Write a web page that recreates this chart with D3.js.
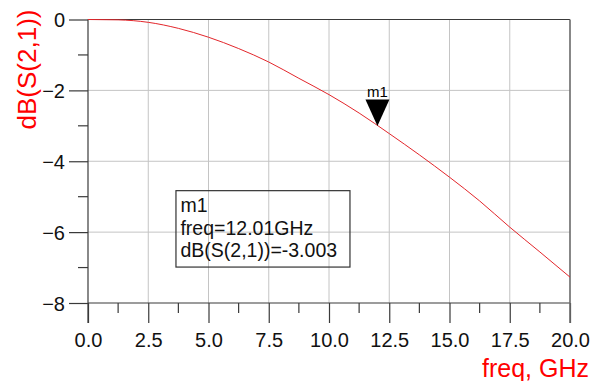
<!DOCTYPE html>
<html><head><meta charset="utf-8">
<script src="https://cdn.jsdelivr.net/npm/d3@7"></script>
<style>html,body{margin:0;padding:0;background:#fff;}svg{display:block;font-family:"Liberation Sans",Arial,sans-serif;}</style>
</head><body>
<svg id="c" width="592" height="381"></svg>
<script>
const freqGHz = [0, 1.25, 2.5, 3.75, 5, 6.25, 7.5, 8.75, 10, 11.25, 12.5, 13.75, 15, 16.25, 17.5, 18.75, 20];
const dbS21   = [0, -0.01, -0.08, -0.25, -0.50, -0.82, -1.20, -1.66, -2.12, -2.64, -3.22, -3.82, -4.45, -5.12, -5.86, -6.56, -7.27];
const xTicks = [0, 2.5, 5, 7.5, 10, 12.5, 15, 17.5, 20];
const xMinor = [1.25, 3.75, 6.25, 8.75, 11.25, 13.75, 16.25, 18.75];
const yTicks = [0, -2, -4, -6, -8];
const yMinor = [-1, -3, -5, -7];
const marker = {name: "m1", freq: 12.01, value: -3.003};
const boxLines = ["m1", "freq=12.01GHz", "dB(S(2,1))=-3.003"];

const svg = d3.select("#c");
const x = d3.scaleLinear().domain([0, 20]).range([88, 570]);
const y = d3.scaleLinear().domain([0, -8]).range([19.5, 303]);
const axisCol = "#3a3a3a";

// grid
const g = svg.append("g");
g.selectAll(".vg").data(xTicks.filter(d => d > 0 && d < 20)).join("line")
  .attr("x1", d => x(d)).attr("x2", d => x(d)).attr("y1", y(0)).attr("y2", y(-8))
  .attr("stroke", "#c4c4c4").attr("stroke-width", 1);
g.selectAll(".hg").data(yTicks.filter(d => d < 0 && d > -8)).join("line")
  .attr("x1", x(0)).attr("x2", x(20)).attr("y1", d => y(d)).attr("y2", d => y(d))
  .attr("stroke", "#c4c4c4").attr("stroke-width", 1);

// x axis (ticks down)
const xAxis = d3.axisBottom(x).tickValues(xTicks).tickSize(20).tickFormat(d3.format(".1f"));
const xa = svg.append("g").attr("transform", `translate(0,${y(-8)})`).call(xAxis);
xa.select(".domain").remove();
xa.selectAll(".tick line").attr("stroke", axisCol).attr("stroke-width", 1.2);
xa.selectAll(".tick text").attr("font-size", 20).attr("fill", "#111")
  .attr("font-family", "Liberation Sans, Arial, sans-serif").attr("y", 43.7).attr("dy", 0);
svg.append("g").selectAll("line").data(xMinor).join("line")
  .attr("x1", d => x(d)).attr("x2", d => x(d)).attr("y1", y(-8)).attr("y2", y(-8) + 10)
  .attr("stroke", axisCol).attr("stroke-width", 1.2);

// y axis (ticks left)
const yAxis = d3.axisLeft(y).tickValues(yTicks).tickSize(19).tickFormat(d3.format("d"));
const ya = svg.append("g").attr("transform", `translate(${x(0)},0)`).call(yAxis);
ya.select(".domain").remove();
ya.selectAll(".tick line").attr("stroke", axisCol).attr("stroke-width", 1.2);
ya.selectAll(".tick text").attr("font-size", 20).attr("fill", "#111")
  .attr("font-family", "Liberation Sans, Arial, sans-serif").attr("x", -23).attr("dy", "0.35em");
svg.append("g").selectAll("line").data(yMinor).join("line")
  .attr("x1", x(0) - 10).attr("x2", x(0)).attr("y1", d => y(d)).attr("y2", d => y(d))
  .attr("stroke", axisCol).attr("stroke-width", 1.2);

// frame
svg.append("line").attr("x1", x(0)).attr("x2", x(0)).attr("y1", y(0)).attr("y2", y(-8) + 20)
  .attr("stroke", axisCol).attr("stroke-width", 1.2);
svg.append("line").attr("x1", x(0)).attr("x2", x(20)).attr("y1", y(-8)).attr("y2", y(-8))
  .attr("stroke", axisCol).attr("stroke-width", 1.2);
svg.append("line").attr("x1", x(0)).attr("x2", x(20)).attr("y1", y(0)).attr("y2", y(0))
  .attr("stroke", axisCol).attr("stroke-width", 1.2);
svg.append("line").attr("x1", x(20)).attr("x2", x(20)).attr("y1", y(0)).attr("y2", y(-8) + 20)
  .attr("stroke", "#6a6a6a").attr("stroke-width", 1.6);

// curve
const line = d3.line().x((d, i) => x(freqGHz[i])).y(d => y(d)).curve(d3.curveMonotoneX);
svg.append("path").datum(dbS21).attr("d", line).attr("fill", "none")
  .attr("stroke", "#e3262b").attr("stroke-width", 1);

// marker
const mx = x(marker.freq), my = y(marker.value);
svg.append("path").attr("d", `M${mx - 12},${my - 26.5}L${mx + 12},${my - 26.5}L${mx},${my}Z`).attr("fill", "#000");
svg.append("text").attr("x", mx).attr("y", my - 29.2).attr("text-anchor", "middle")
  .attr("font-size", 15).attr("fill", "#000").text(marker.name);

// marker readout box
const bx = x(3.65), by = y(-4.83);
svg.append("rect").attr("x", bx).attr("y", by).attr("width", 174).attr("height", 76.4)
  .attr("fill", "none").attr("stroke", "#333").attr("stroke-width", 1.2);
svg.append("g").selectAll("text").data(boxLines).join("text")
  .attr("x", bx + 4.5).attr("y", (d, i) => by + 21.4 + i * 22.6)
  .attr("font-size", 19.5).attr("fill", "#111").text(d => d);

// axis titles
svg.append("text").attr("transform", "translate(36,69.5) rotate(-90)").attr("text-anchor", "middle")
  .attr("font-size", 26).attr("fill", "#ff0000").text("dB(S(2,1))");
svg.append("text").attr("x", 589).attr("y", 377).attr("text-anchor", "end")
  .attr("font-size", 25).attr("fill", "#ff0000").text("freq, GHz");
</script>
</body></html>
